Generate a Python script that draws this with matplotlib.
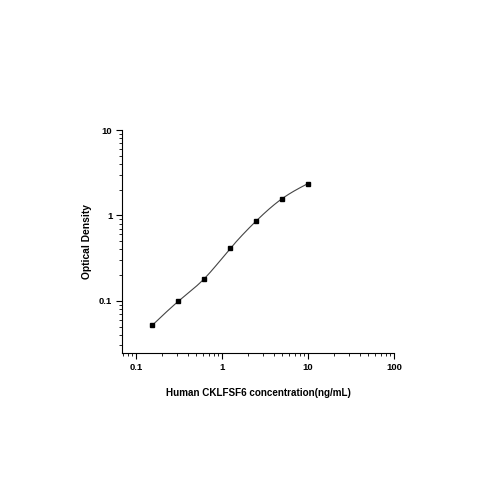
import numpy as np
import matplotlib
matplotlib.use("Agg")
import matplotlib.pyplot as plt
from matplotlib.ticker import LogLocator, NullFormatter, FixedLocator, FixedFormatter

conc = [0.156, 0.3125, 0.625, 1.25, 2.5, 5.0, 10.0]
od = [0.052, 0.099, 0.182, 0.41, 0.86, 1.57, 2.36]
xticks = [0.1, 1, 10, 100]
xticklabels = ["0.1", "1", "10", "100"]
yticks = [0.1, 1, 10]
yticklabels = ["0.1", "1", "10"]


def natural_spline(x, y, xs):
    x = np.asarray(x, float); y = np.asarray(y, float)
    n = len(x)
    h = np.diff(x)
    A = np.zeros((n, n)); b = np.zeros(n)
    A[0, 0] = 1; A[-1, -1] = 1
    for i in range(1, n - 1):
        A[i, i - 1] = h[i - 1]
        A[i, i] = 2 * (h[i - 1] + h[i])
        A[i, i + 1] = h[i]
        b[i] = 3 * ((y[i + 1] - y[i]) / h[i] - (y[i] - y[i - 1]) / h[i - 1])
    c = np.linalg.solve(A, b)
    out = np.empty_like(xs)
    for k, xv in enumerate(xs):
        i = min(max(np.searchsorted(x, xv) - 1, 0), n - 2)
        dx = xv - x[i]
        bb = (y[i + 1] - y[i]) / h[i] - h[i] * (2 * c[i] + c[i + 1]) / 3
        d = (c[i + 1] - c[i]) / (3 * h[i])
        out[k] = y[i] + bb * dx + c[i] * dx ** 2 + d * dx ** 3
    return out

lx = np.log10(conc); ly = np.log10(od)
xs = np.linspace(lx[0], lx[-1], 200)
ys = natural_spline(lx, ly, xs)

fig = plt.figure(figsize=(5, 5), dpi=100)
ax = fig.add_axes([0.244, 0.294, 0.544, 0.446])
ax.plot(10 ** xs, 10 ** ys, color="#444444", lw=0.8)
ax.plot(conc, od, "s", color="black", ms=3.5)
ax.set_xscale("log"); ax.set_yscale("log")
ax.set_xlim(0.069, 100)
ax.set_ylim(0.0245, 10)
for s in ["top", "right"]:
    ax.spines[s].set_visible(False)
for s in ["left", "bottom"]:
    ax.spines[s].set_linewidth(0.8)
ax.xaxis.set_major_locator(FixedLocator(xticks))
ax.xaxis.set_major_formatter(FixedFormatter(xticklabels))
ax.yaxis.set_major_locator(FixedLocator(yticks))
ax.yaxis.set_major_formatter(FixedFormatter(yticklabels))
ax.xaxis.set_minor_locator(LogLocator(base=10, subs=np.arange(2, 10)))
ax.yaxis.set_minor_locator(LogLocator(base=10, subs=np.arange(2, 10)))
ax.xaxis.set_minor_formatter(NullFormatter())
ax.yaxis.set_minor_formatter(NullFormatter())
ax.tick_params(which="major", direction="out", length=4, width=0.8, labelsize=6.8, pad=3)
ax.tick_params(which="minor", direction="out", length=2, width=0.6)
for lab in ax.get_xticklabels() + ax.get_yticklabels():
    lab.set_fontweight("bold")
    lab.set_family("Liberation Sans")
ax.set_xlabel("Human CKLFSF6 concentration(ng/mL)", fontsize=7.1, fontweight="bold",
              family="Liberation Sans", labelpad=12)
ax.set_ylabel("Optical Density", fontsize=7.4, fontweight="bold",
              family="Liberation Sans", labelpad=5)
fig.savefig("out.png", dpi=100)
